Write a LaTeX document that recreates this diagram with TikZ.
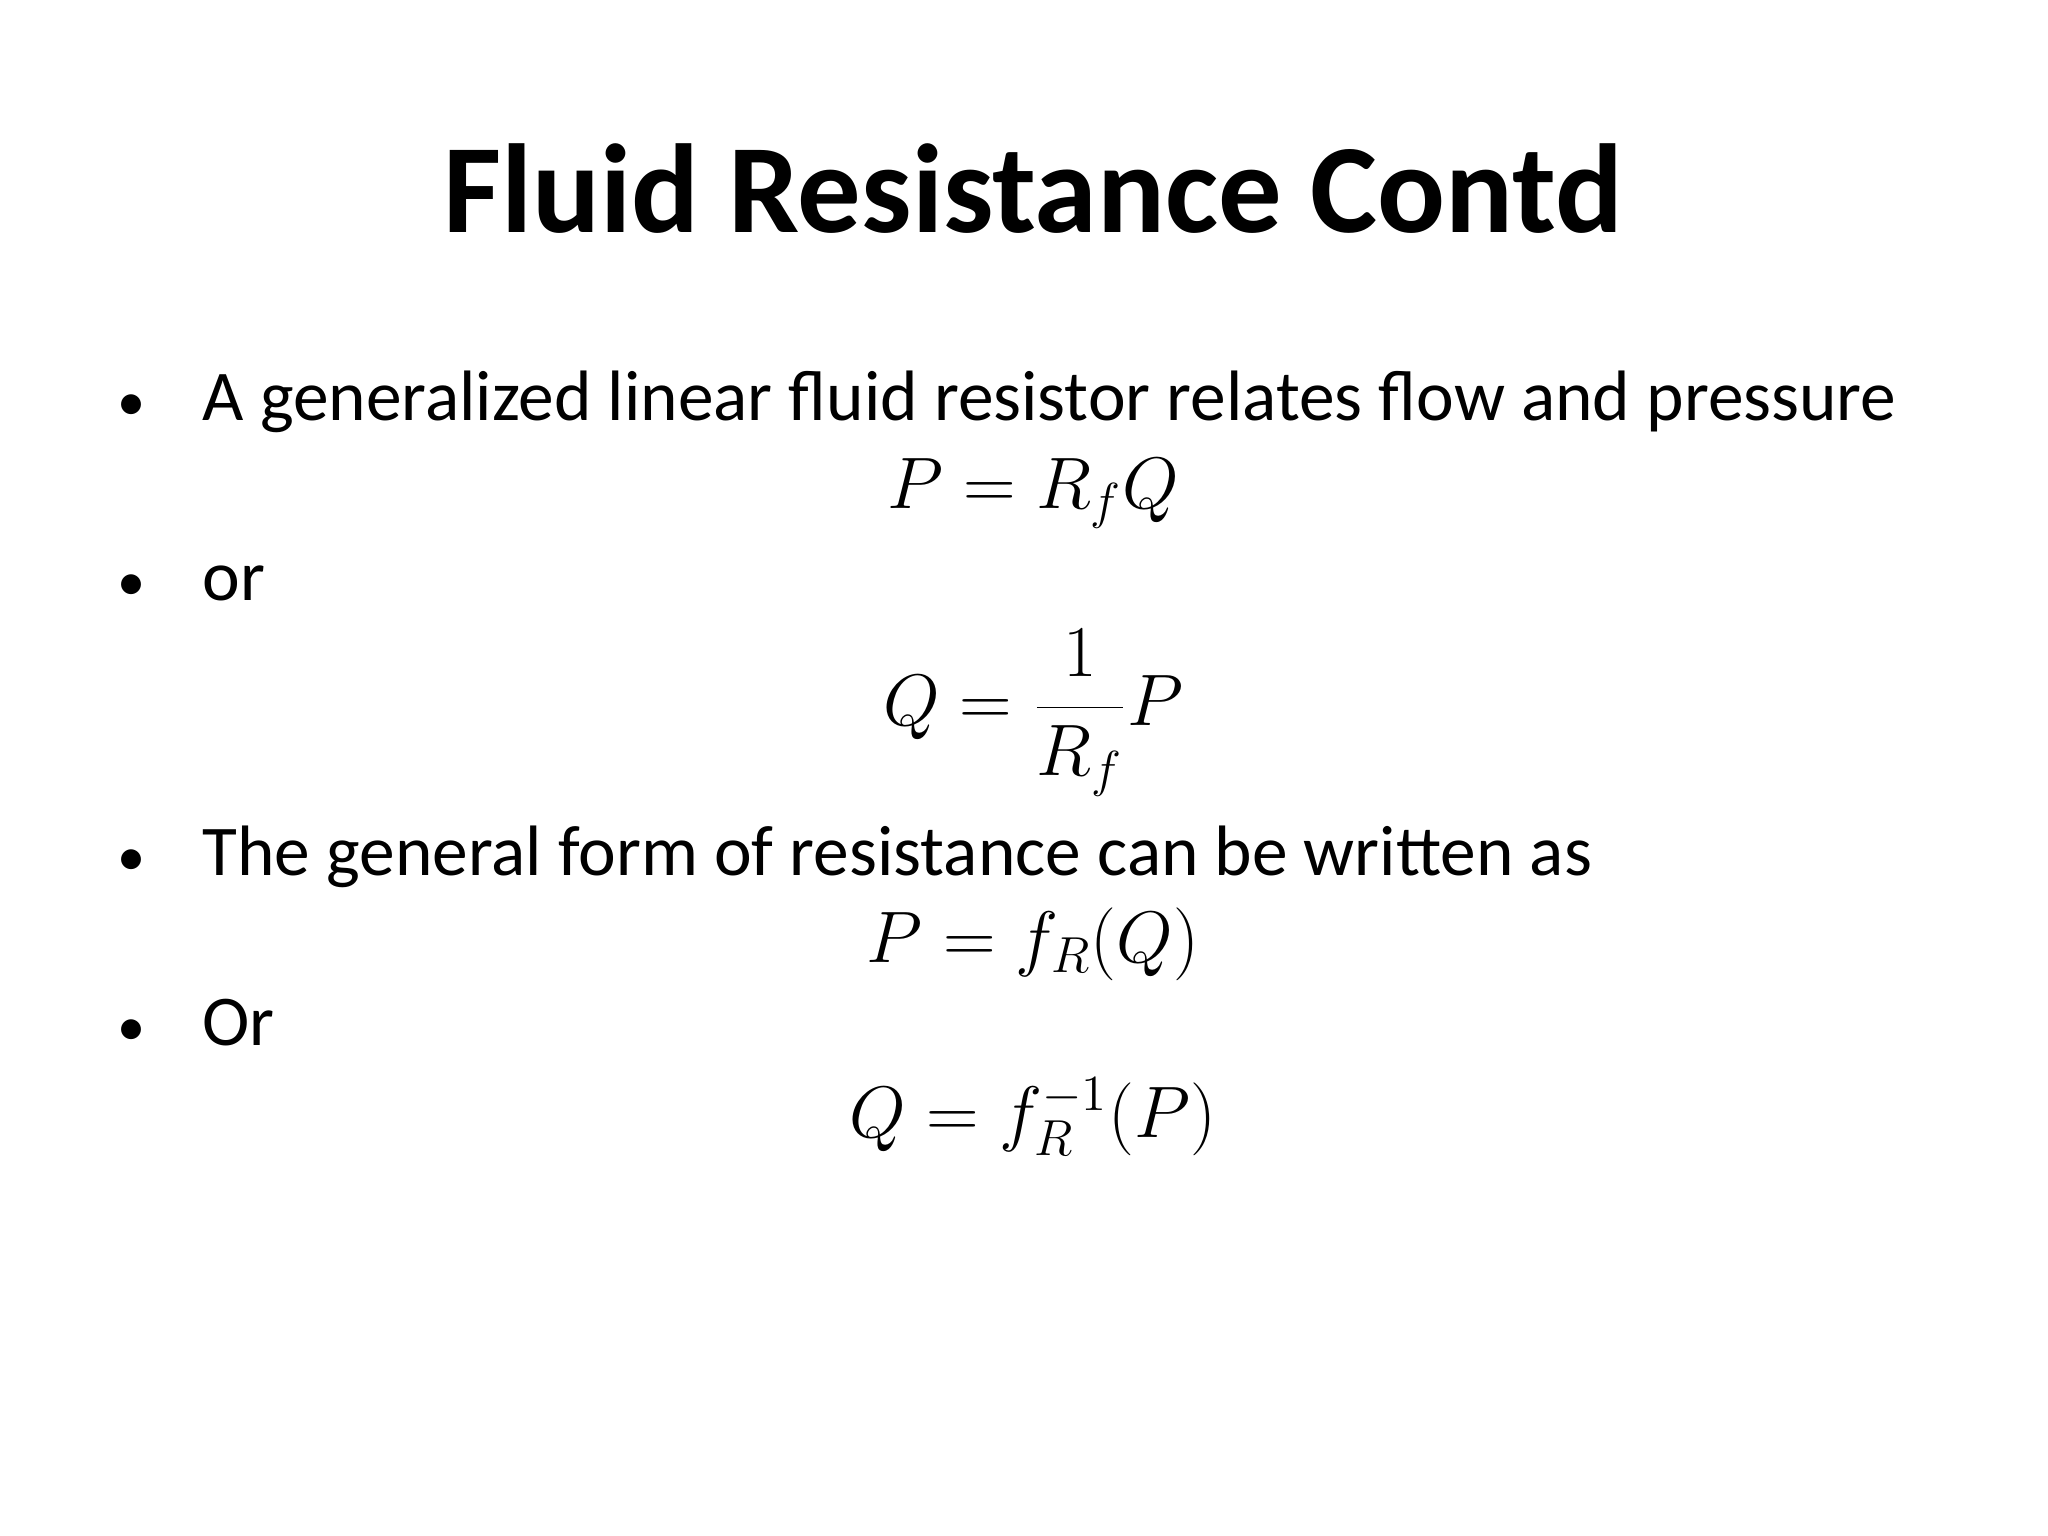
\documentclass[tikz,border=0pt]{standalone}
\usepackage{fontspec}
\setmainfont{Carlito}
\begin{document}
\begin{tikzpicture}[x=0.01cm,y=-0.01cm,
  body/.style={anchor=base west,inner sep=0,font=\fontsize{20.3}{24}\selectfont},
  eq/.style={anchor=base,inner sep=0,font=\fontsize{20.3}{24}\selectfont},
  dot/.style={anchor=base,inner sep=0,font=\fontsize{16}{20}\selectfont}]
\useasboundingbox (0,0) rectangle (2048,1536);
\node[anchor=base,inner sep=0,font=\fontsize{36}{42}\selectfont\bfseries] (title) at (1033,232) {Fluid Resistance Contd};
\node[dot] (d1) at (132,420) {•};
\node[body] (t1) at (202,420) {A generalized linear fluid resistor relates flow and pressure};
\node[eq] (e1) at (1033,508) {$P = R_f Q$};
\node[dot] (d2) at (132,600) {•};
\node[body] (t2) at (202,600) {or};
\node[anchor=center,inner sep=0,font=\fontsize{20.3}{24}\selectfont] (e2) at (1033,713) {$\displaystyle Q = \frac{1}{R_f}P$};
\node[dot] (d3) at (132,875) {•};
\node[body] (t3) at (202,875) {The general form of resistance can be written as};
\node[eq] (e3) at (1033,962) {$P = f_R(Q)$};
\node[dot] (d4) at (132,1045) {•};
\node[body] (t4) at (202,1045) {Or};
\node[eq] (e4) at (1033,1137) {$Q = f_R^{-1}(P)$};
\end{tikzpicture}
\end{document}
